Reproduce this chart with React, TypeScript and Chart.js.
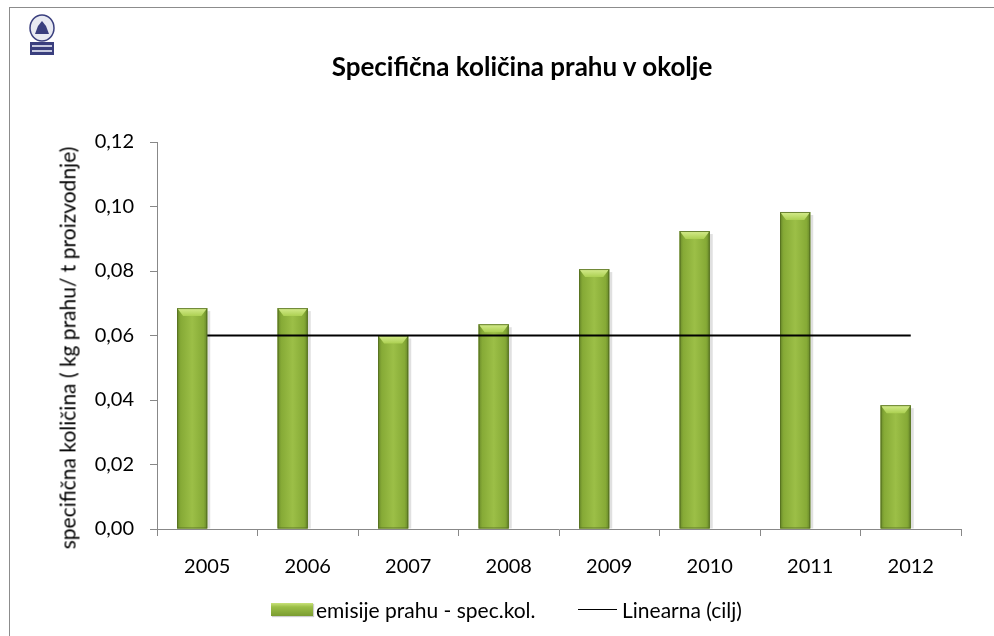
import { useEffect, useRef } from 'react';
import { Chart, registerables } from 'chart.js';
Chart.register(...registerables);

const FONT = "Lato, 'Open Sans', sans-serif";

const categories = ['2005', '2006', '2007', '2008', '2009', '2010', '2011', '2012'];
const emissions = [0.0685, 0.0685, 0.0600, 0.0635, 0.0806, 0.0924, 0.0983, 0.0384];
const target = [0.06, 0.06, 0.06, 0.06, 0.06, 0.06, 0.06, 0.06];
const emptySlot = [null, null, null, null, null, null, null, null];

const TITLE = 'Specifična količina prahu v okolje';
const Y_TITLE = 'specifična količina ( kg prahu/ t proizvodnje)';
const BAR_LABEL = 'emisije prahu - spec.kol.';
const LINE_LABEL = 'Linearna (cilj)';

const barShade = {
  id: 'barShade',
  afterDatasetDraw(chart: any, args: any) {
    if (args.index !== 1) return;
    const ctx = chart.ctx;
    const meta = chart.getDatasetMeta(1);
    ctx.save();
    meta.data.forEach((el: any) => {
      const w = el.width;
      const left = el.x - w / 2;
      const right = el.x + w / 2;
      const top = el.y;
      const bottom = el.base;
      const h = bottom - top;
      ctx.fillStyle = 'rgba(0,0,0,0.12)';
      ctx.fillRect(right, top + 3, 3, h - 3);
      const g = ctx.createLinearGradient(left, 0, right, 0);
      g.addColorStop(0, '#6a8a2a');
      g.addColorStop(0.12, '#86aa36');
      g.addColorStop(0.5, '#9cbf47');
      g.addColorStop(0.88, '#86aa36');
      g.addColorStop(1, '#66862a');
      ctx.fillStyle = g;
      ctx.fillRect(left, top, w, h);
      const bh = Math.min(8, h / 2);
      const gb = ctx.createLinearGradient(0, top, 0, top + bh);
      gb.addColorStop(0, '#d6ec8e');
      gb.addColorStop(1, '#acd052');
      ctx.fillStyle = gb;
      ctx.beginPath();
      ctx.moveTo(left, top);
      ctx.lineTo(right, top);
      ctx.lineTo(right - 6, top + bh);
      ctx.lineTo(left + 6, top + bh);
      ctx.closePath();
      ctx.fill();
      ctx.strokeStyle = 'rgba(80,105,30,0.8)';
      ctx.lineWidth = 1;
      ctx.strokeRect(left + 0.5, top + 0.5, w - 1, h - 1);
    });
    ctx.restore();
  },
};

export default function App() {
  const ref = useRef<HTMLCanvasElement>(null);
  useEffect(() => {
    const chart = new Chart(ref.current!, {
      type: 'bar',
      data: {
        labels: categories,
        datasets: [
          {
            type: 'line',
            label: LINE_LABEL,
            data: target,
            borderColor: '#000',
            borderWidth: 2,
            pointRadius: 0,
            order: 0,
          } as any,
          {
            type: 'bar',
            label: BAR_LABEL,
            data: emissions,
            backgroundColor: '#8db33a',
            borderWidth: 0,
            order: 1,
            categoryPercentage: 0.6,
            barPercentage: 1,
          },
          {
            type: 'bar',
            label: '',
            data: emptySlot,
            order: 2,
            categoryPercentage: 0.6,
            barPercentage: 1,
          } as any,
        ],
      },
      options: {
        responsive: false,
        animation: false,
        layout: { padding: { left: 55, right: 33, top: 142, bottom: 57 } },
        plugins: {
          legend: { display: false },
          tooltip: { enabled: false },
          title: { display: false },
        },
        scales: {
          x: {
            grid: { display: true, drawOnChartArea: false, drawTicks: true, tickLength: 7, color: '#888', offset: true },
            border: { color: '#888' },
            ticks: { font: { family: FONT, size: 20 }, color: '#000', padding: 19, maxRotation: 0 },
            afterFit: (s: any) => { s.height = 50; },
          },
          y: {
            min: 0,
            max: 0.12,
            grid: { drawOnChartArea: false, tickLength: 7, color: '#888' },
            border: { color: '#888' },
            ticks: {
              stepSize: 0.02,
              font: { family: FONT, size: 20 },
              color: '#000',
              padding: 16,
              callback: (v: any) => Number(v).toFixed(2).replace('.', ','),
            },
            afterFit: (s: any) => { s.width = 102; },
          },
        },
      },
      plugins: [barShade],
    });
    return () => chart.destroy();
  }, []);

  return (
    <div style={{ position: 'fixed', left: 0, top: 0, width: 994, height: 636, background: '#fff', overflow: 'hidden', fontFamily: FONT }}>
      <div style={{ position: 'absolute', left: 9, top: 7, right: -2, bottom: -2, borderTop: '1px solid #8c8c8c', borderLeft: '1px solid #8c8c8c' }} />
      <svg style={{ position: 'absolute', left: 25, top: 13 }} width={34} height={44} viewBox="0 0 34 44">
        <ellipse cx={17} cy={15} rx={12} ry={13} fill="#e8eaf2" stroke="#3a3f7e" strokeWidth={1.5} />
        <path d="M10 21 L24 21 L21 13 L17 8 L13 13 Z" fill="#3a3f7e" />
        <rect x={5} y={29} width={24} height={13} fill="#3a3f7e" />
        <rect x={7} y={32} width={20} height={2} fill="#c8cbe0" />
        <rect x={7} y={37} width={20} height={2} fill="#c8cbe0" />
      </svg>
      <canvas ref={ref} width={994} height={636} style={{ position: 'absolute', left: 0, top: 0 }} />
      <div style={{ position: 'absolute', left: 0, width: 1044, top: 51, lineHeight: '30px', textAlign: 'center', fontSize: 26, fontWeight: 700, color: '#000', whiteSpace: 'nowrap' }}>{TITLE}</div>
      <div style={{ position: 'absolute', left: 67, top: 348, transform: 'translate(-50%, -50%) rotate(-90deg)', fontSize: 21, lineHeight: '25px', color: '#000', whiteSpace: 'nowrap' }}>{Y_TITLE}</div>
      <div style={{ position: 'absolute', left: 271, top: 603, width: 42, height: 13, background: 'linear-gradient(to bottom, #c9e27a 0%, #9cbf47 30%, #7a9c30 100%)', boxShadow: '1px 1px 1px rgba(0,0,0,0.2)' }} />
      <div style={{ position: 'absolute', left: 316, top: 598, fontSize: 21, lineHeight: '24px', color: '#000', whiteSpace: 'nowrap' }}>{BAR_LABEL}</div>
      <div style={{ position: 'absolute', left: 578, top: 609, width: 39, height: 0, borderTop: '1.5px solid #000' }} />
      <div style={{ position: 'absolute', left: 622, top: 598, fontSize: 21, lineHeight: '24px', color: '#000', whiteSpace: 'nowrap' }}>{LINE_LABEL}</div>
    </div>
  );
}
